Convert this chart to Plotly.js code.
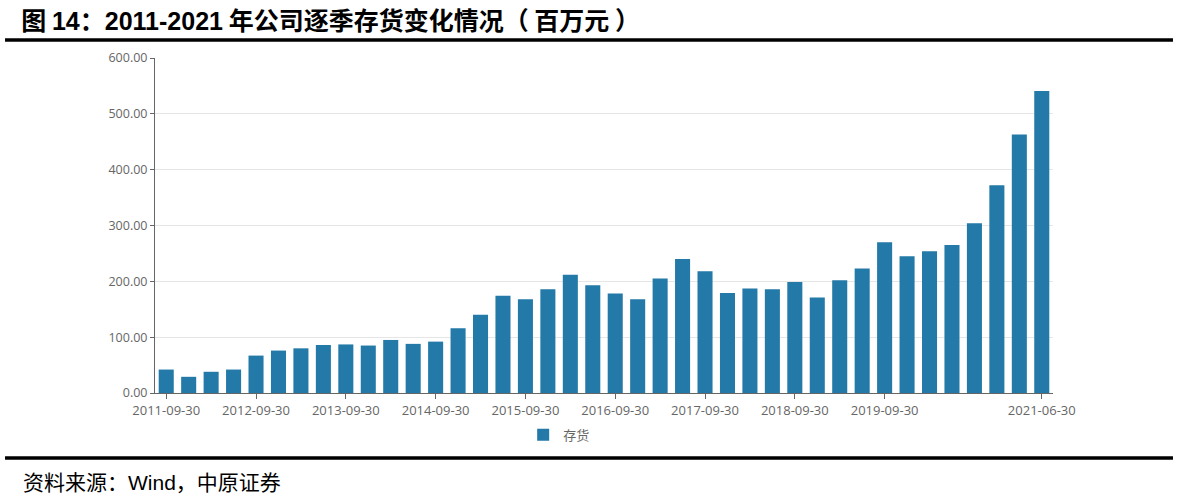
<!DOCTYPE html>
<html>
<head>
<meta charset="utf-8">
<script src="https://cdn.plot.ly/plotly-3.0.1.min.js"></script>
<style>
  html, body { margin: 0; padding: 0; background: #fff; }
  #graphDiv { width: 1182px; height: 498px; }
</style>
</head>
<body>
<div id="graphDiv"></div>
<script>
// quarterly report dates
var quarters = [
  '2011-09-30','2011-12-31','2012-03-31','2012-06-30',
  '2012-09-30','2012-12-31','2013-03-31','2013-06-30',
  '2013-09-30','2013-12-31','2014-03-31','2014-06-30',
  '2014-09-30','2014-12-31','2015-03-31','2015-06-30',
  '2015-09-30','2015-12-31','2016-03-31','2016-06-30',
  '2016-09-30','2016-12-31','2017-03-31','2017-06-30',
  '2017-09-30','2017-12-31','2018-03-31','2018-06-30',
  '2018-09-30','2018-12-31','2019-03-31','2019-06-30',
  '2019-09-30','2019-12-31','2020-03-31','2020-06-30',
  '2020-09-30','2020-12-31','2021-03-31','2021-06-30'
];

// inventory, million yuan
var inventory = [
  42, 29, 38, 42, 67, 76, 80, 86, 87, 85,
  95, 88, 92, 116, 140, 174, 168, 186, 212, 193,
  178, 168, 205, 240, 218, 179, 187, 186, 199, 171,
  202, 223, 270, 245, 254, 265, 304, 372, 463, 541
];

var shownTicks = [
  '2011-09-30','2012-09-30','2013-09-30','2014-09-30','2015-09-30',
  '2016-09-30','2017-09-30','2018-09-30','2019-09-30','2021-06-30'
];

var yTicks = [0, 100, 200, 300, 400, 500, 600];

var trace1 = {
  x: quarters,
  y: inventory,
  type: 'bar',
  name: '存货',
  marker: {color: '#2379a7'},
  hoverinfo: 'x+y'
};

var latin = function (s) {
  return '<span style="font-family:Liberation Sans, Arial, sans-serif">' + s + '</span>';
};

var layout = {
  width: 1182,
  height: 498,
  margin: {l: 155, r: 129, t: 58, b: 105},
  paper_bgcolor: '#fff',
  plot_bgcolor: '#fff',
  font: {family: 'Open Sans, "Noto Sans CJK SC", sans-serif', color: '#666'},
  bargap: 0.33,
  showlegend: true,
  title: {
    text: '<b>图 ' + latin('14') + '：' + latin('2011-2021') + ' 年公司逐季存货变化情况（ 百万元 ）</b>',
    font: {family: '"Noto Sans CJK SC", "Liberation Sans", sans-serif', size: 25, color: '#000'},
    xref: 'container', yref: 'container',
    x: 0.018, xanchor: 'left',
    y: 0.958, yanchor: 'middle'
  },
  xaxis: {
    type: 'category',
    range: [-0.5, 39.5],
    tickmode: 'array',
    tickvals: shownTicks,
    ticktext: shownTicks,
    tickangle: 0,
    ticks: 'outside',
    ticklen: 5,
    tickcolor: '#666',
    tickfont: {size: 13, color: '#666'},
    showline: true,
    linecolor: '#666',
    linewidth: 1,
    showgrid: false,
    zeroline: false,
    fixedrange: true
  },
  yaxis: {
    range: [0, 600],
    tickmode: 'array',
    tickvals: yTicks,
    ticktext: yTicks.map(function (v) { return v.toFixed(2); }),
    ticks: 'outside',
    ticklen: 4,
    tickcolor: '#666',
    tickfont: {size: 12.5, color: '#666'},
    showline: true,
    linecolor: '#666',
    linewidth: 1,
    showgrid: true,
    gridcolor: '#e6e6e6',
    zeroline: false,
    fixedrange: true
  },
  legend: {
    orientation: 'h',
    x: 0.41, xanchor: 'left',
    y: -0.125, yanchor: 'middle',
    font: {size: 13, color: '#666'},
    itemwidth: 30
  },
  shapes: [
    {type: 'line', xref: 'paper', yref: 'paper',
     x0: -0.167, x1: 1.1336, y0: 1.0537, y1: 1.0537,
     line: {color: '#000', width: 3.5}},
    {type: 'line', xref: 'paper', yref: 'paper',
     x0: -0.167, x1: 1.1336, y0: -0.194, y1: -0.194,
     line: {color: '#000', width: 3.5}}
  ],
  annotations: [
    {text: '资料来源：' + latin('Wind') + '，中原证券',
     xref: 'paper', yref: 'paper',
     x: -0.149, xanchor: 'left',
     y: -0.264, yanchor: 'middle',
     showarrow: false,
     font: {family: '"Noto Sans CJK SC", "Liberation Sans", sans-serif', size: 21, color: '#000'}}
  ]
};

Plotly.newPlot('graphDiv', [trace1], layout, {displayModeBar: false, staticPlot: true});
</script>
</body>
</html>
